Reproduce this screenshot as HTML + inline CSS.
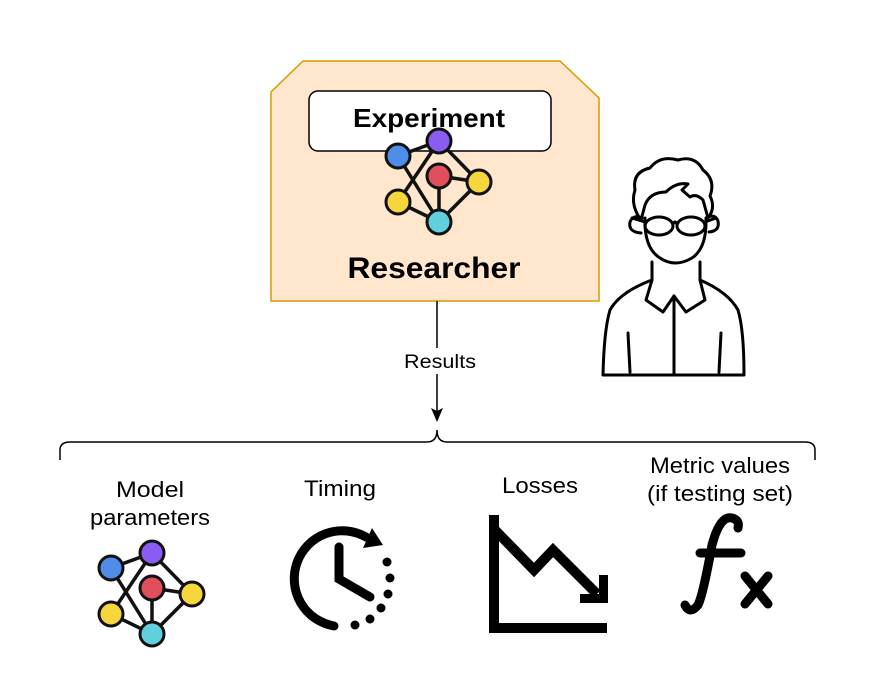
<!DOCTYPE html>
<html><head><meta charset="utf-8"><style>
html,body{margin:0;padding:0;background:#fff;}
svg{display:block;font-family:"Liberation Sans",Arial,sans-serif;}
</style></head><body>
<svg width="884" height="682" viewBox="0 0 884 682" xmlns="http://www.w3.org/2000/svg">
<defs>
<g id="net">
 <g stroke="#111" stroke-width="3.5" fill="none">
  <line x1="111" y1="568" x2="152" y2="553"/>
  <line x1="111" y1="568" x2="152" y2="634"/>
  <line x1="152" y1="553" x2="111" y2="614"/>
  <line x1="152" y1="553" x2="192" y2="594"/>
  <line x1="152" y1="588" x2="192" y2="594"/>
  <line x1="152" y1="588" x2="152" y2="634"/>
  <line x1="192" y1="594" x2="152" y2="634"/>
  <line x1="111" y1="614" x2="152" y2="634"/>
 </g>
 <g stroke="#111" stroke-width="3">
  <circle cx="111" cy="568" r="12" fill="#4f8de8"/>
  <circle cx="152" cy="553" r="12" fill="#8a5cf2"/>
  <circle cx="152" cy="588" r="12" fill="#e04f5c"/>
  <circle cx="192" cy="594" r="12" fill="#f5d63d"/>
  <circle cx="111" cy="614" r="12" fill="#f5d63d"/>
  <circle cx="152" cy="634" r="12" fill="#62cfdc"/>
 </g>
</g>
</defs>
<polygon points="303,61 560,61 599,98 599,301 271,301 271,92" fill="#ffe6cc" stroke="#d79b00" stroke-width="1.5"/>
<rect x="309" y="91" width="242" height="60" rx="9" fill="#fff" stroke="#000" stroke-width="1.5"/>
<text x="429" y="127" text-anchor="middle" font-size="26" font-weight="bold" textLength="152" lengthAdjust="spacingAndGlyphs">Experiment</text>
<use href="#net" transform="translate(287,-412)"/>
<text x="434" y="278" text-anchor="middle" font-size="30" font-weight="bold" textLength="173" lengthAdjust="spacingAndGlyphs">Researcher</text>

<line x1="437" y1="301" x2="437" y2="412" stroke="#000" stroke-width="1.5"/>
<polygon points="437,422 431,408 437,411 443,408" fill="#000"/>
<rect x="398" y="348" width="82" height="26" fill="#fff"/>
<text x="440" y="368" text-anchor="middle" font-size="19" textLength="72" lengthAdjust="spacingAndGlyphs">Results</text>

<path d="M60,460 V450 Q60,442 70,442 H427 Q437,442 437,430 Q437,442 447,442 H805 Q815,442 815,450 V460" fill="none" stroke="#000" stroke-width="1.5"/>

<g font-size="22" text-anchor="middle">
 <text x="150" y="497" textLength="68" lengthAdjust="spacingAndGlyphs">Model</text>
 <text x="150" y="525" textLength="120" lengthAdjust="spacingAndGlyphs">parameters</text>
 <text x="340" y="496" textLength="72" lengthAdjust="spacingAndGlyphs">Timing</text>
 <text x="540" y="493" textLength="76" lengthAdjust="spacingAndGlyphs">Losses</text>
 <text x="720" y="473" textLength="140" lengthAdjust="spacingAndGlyphs">Metric values</text>
 <text x="720" y="501" textLength="146" lengthAdjust="spacingAndGlyphs">(if testing set)</text>
</g>
<use href="#net"/>

<!-- clock -->
<g fill="none" stroke="#000" stroke-width="9" stroke-linecap="round">
 <path d="M334,626 A48,48 0 1 1 366,537"/>
 <path d="M339,547 V579 L370,597"/>
</g>
<polygon points="372,528 383,545 363,548" fill="#000"/>
<g fill="#000">
 <circle cx="387" cy="562" r="4.5"/><circle cx="390" cy="578" r="4.5"/>
 <circle cx="388" cy="594" r="4.5"/><circle cx="381" cy="608" r="4.5"/>
 <circle cx="370" cy="619" r="4.5"/><circle cx="355" cy="625" r="4.5"/>
</g>

<!-- losses -->
<g fill="none" stroke="#000" stroke-width="10">
 <path d="M494,515 V628 H607"/>
 <path d="M495,530 L534,570 L553,550 L597,594"/>
</g>
<polygon points="608,575 608,603 580,603 580,594 599,594 599,575" fill="#000"/>

<!-- fx -->
<g fill="none" stroke="#000" stroke-width="9" stroke-linecap="round">
 <path d="M685,605 Q690,615 698,605 Q703,595 712,545 Q720,515 732,518 Q740,520 738,528"/>
 <path d="M700,553 H741"/>
 <path d="M745,576 L768,604 M768,576 L745,604"/>
</g>

<!-- person -->
<g fill="none" stroke="#000" stroke-width="3" stroke-linecap="round" stroke-linejoin="round">
 <path d="M645,218 Q644,248 660,258 Q675,268 692,258 Q707,248 706,218"/>
 <path d="M641,233 Q628,232 630,222 Q633,214 642,218"/>
 <path d="M709,232 Q720,231 718,221 Q715,213 706,218"/>
 <path d="M641,220 Q630,205 635,190 Q632,172 650,168 Q660,155 678,160 Q695,155 703,170 Q716,180 710,196 Q716,208 708,218 L703,200 Q696,193 690,197 L682,190 L688,184 Q676,182 666,192 Q650,192 645,205 Z"/>
 <ellipse cx="659" cy="226" rx="14" ry="9"/>
 <ellipse cx="691" cy="226" rx="14" ry="9"/>
 <path d="M673,224 Q675,220 677,224 M645,222 L632,218 M705,222 L716,218"/>
 <path d="M652,262 L652,280 Q620,292 610,310 Q604,330 603,375 H744 Q744,330 738,310 Q728,292 700,280 L700,262"/>
 <path d="M652,280 L646,300 L663,312 L674,296 L686,312 L705,300 L700,280"/>
 <path d="M674,296 V375"/>
 <path d="M628,333 L630,372 M721,333 L719,372"/>
</g>
</svg>
</body></html>
